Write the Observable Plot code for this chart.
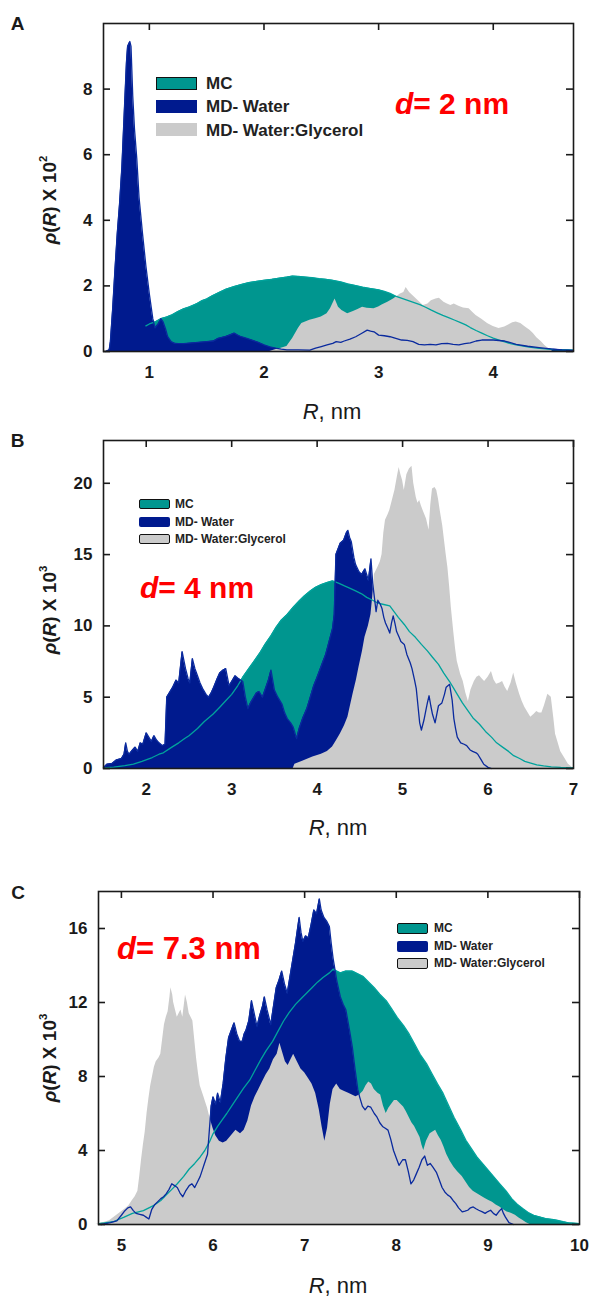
<!DOCTYPE html>
<html>
<head>
<meta charset="utf-8">
<script src="https://cdn.jsdelivr.net/npm/d3@7"></script>
<script src="https://cdn.jsdelivr.net/npm/@observablehq/plot@0.6"></script>
<style>
  html, body { margin: 0; padding: 0; background: #fff; }
  #root { position: relative; width: 590px; height: 1297px; overflow: hidden; font-family: 'Liberation Sans', Arial, Helvetica, sans-serif; color: #1a1a1a; }
  .abs { position: absolute; white-space: nowrap; line-height: 1; }
</style>
</head>
<body>
<div id="root"></div>
<script>
// ---------------- DATA ----------------
const seriesNames = ["MC", "MD- Water", "MD- Water:Glycerol"];
const panelLetters = ["A", "B", "C"];
const distanceLabels = ["2 nm", "4 nm", "7.3 nm"];
const yExponents = ["2", "3", "3"];

const xTicksA = [1, 2, 3, 4];
const yTicksA = [0, 2, 4, 6, 8];
const xTicksB = [2, 3, 4, 5, 6, 7];
const yTicksB = [0, 5, 10, 15, 20];
const xTicksC = [5, 6, 7, 8, 9, 10];
const yTicksC = [0, 4, 8, 12, 16];

// Panel A (rho x 10^2)
const A_MC = [[0.97,0.78],[1.0,0.84],[1.05,0.9],[1.1,1.0],[1.15,1.05],[1.2,1.12],[1.25,1.22],[1.3,1.3],[1.35,1.36],[1.41,1.45],[1.46,1.55],[1.5,1.6],[1.55,1.7],[1.61,1.8],[1.67,1.9],[1.74,1.98],[1.81,2.05],[1.87,2.1],[1.94,2.14],[2.0,2.17],[2.07,2.2],[2.14,2.24],[2.2,2.27],[2.25,2.3],[2.3,2.29],[2.36,2.27],[2.42,2.25],[2.48,2.22],[2.54,2.2],[2.6,2.17],[2.67,2.12],[2.73,2.06],[2.8,2.01],[2.86,1.96],[2.93,1.92],[3.0,1.88],[3.05,1.83],[3.1,1.77],[3.16,1.67],[3.21,1.61],[3.26,1.55],[3.31,1.49],[3.36,1.43],[3.41,1.35],[3.46,1.26],[3.51,1.18],[3.56,1.1],[3.61,1.03],[3.66,0.96],[3.71,0.89],[3.76,0.81],[3.8,0.73],[3.85,0.64],[3.9,0.56],[3.95,0.48],[4.0,0.41],[4.05,0.35],[4.1,0.29],[4.15,0.24],[4.2,0.2],[4.25,0.17],[4.3,0.14],[4.38,0.1],[4.45,0.08],[4.52,0.06],[4.6,0.05],[4.7,0.04]];
const A_Water = [[0.62,0],[0.65,0.05],[0.66,0.3],[0.68,1.3],[0.7,2.5],[0.72,3.6],[0.74,4.5],[0.76,5.6],[0.78,7.2],[0.8,8.8],[0.81,9.3],[0.83,9.45],[0.84,9.3],[0.855,7.8],[0.87,6.8],[0.89,5.9],[0.91,4.7],[0.94,3.6],[0.97,2.6],[1.0,1.75],[1.03,1.0],[1.05,0.72],[1.08,0.85],[1.1,1.0],[1.12,0.9],[1.14,0.7],[1.16,0.45],[1.19,0.3],[1.22,0.25],[1.3,0.24],[1.4,0.27],[1.5,0.3],[1.56,0.32],[1.6,0.4],[1.66,0.45],[1.7,0.5],[1.74,0.56],[1.77,0.5],[1.8,0.45],[1.85,0.4],[1.9,0.34],[1.95,0.28],[2.0,0.2],[2.05,0.14],[2.1,0.1],[2.15,0.07],[2.2,0.05],[2.3,0.05],[2.4,0.04],[2.45,0.1],[2.5,0.15],[2.55,0.2],[2.6,0.25],[2.63,0.3],[2.67,0.28],[2.7,0.32],[2.75,0.38],[2.8,0.45],[2.85,0.55],[2.9,0.65],[2.93,0.62],[2.96,0.6],[3.0,0.5],[3.05,0.48],[3.1,0.45],[3.15,0.4],[3.2,0.35],[3.25,0.34],[3.3,0.3],[3.35,0.22],[3.4,0.2],[3.45,0.22],[3.5,0.2],[3.55,0.24],[3.6,0.25],[3.65,0.22],[3.7,0.2],[3.75,0.24],[3.8,0.26],[3.85,0.32],[3.9,0.35],[4.0,0.35],[4.1,0.32],[4.2,0.22],[4.3,0.16],[4.4,0.12],[4.5,0.08],[4.6,0.05],[4.7,0.03]];
const A_Gly = [[2.05,0],[2.1,0.05],[2.15,0.1],[2.2,0.15],[2.25,0.4],[2.3,0.7],[2.33,0.85],[2.4,0.95],[2.45,1.0],[2.5,1.05],[2.55,1.15],[2.58,1.3],[2.62,1.6],[2.65,1.35],[2.68,1.25],[2.73,1.15],[2.78,1.22],[2.82,1.28],[2.86,1.35],[2.9,1.32],[2.96,1.3],[3.0,1.36],[3.03,1.42],[3.08,1.5],[3.13,1.6],[3.19,1.75],[3.22,1.8],[3.24,1.95],[3.27,1.8],[3.3,1.7],[3.33,1.6],[3.36,1.5],[3.39,1.4],[3.43,1.45],[3.46,1.55],[3.5,1.6],[3.53,1.62],[3.57,1.5],[3.6,1.45],[3.63,1.4],[3.66,1.45],[3.7,1.38],[3.74,1.33],[3.79,1.3],[3.82,1.2],[3.85,1.1],[3.9,0.98],[3.95,0.85],[4.0,0.76],[4.05,0.7],[4.1,0.75],[4.13,0.8],[4.17,0.88],[4.2,0.9],[4.24,0.85],[4.28,0.75],[4.32,0.65],[4.35,0.55],[4.38,0.42],[4.42,0.3],[4.45,0.18],[4.48,0.1],[4.52,0]];

// Panel B (rho x 10^3)
const B_MC = [[1.5,0.05],[1.62,0.1],[1.75,0.2],[1.85,0.3],[1.95,0.5],[2.07,0.77],[2.15,1.0],[2.2,1.1],[2.3,1.5],[2.38,1.8],[2.45,2.1],[2.5,2.3],[2.6,2.8],[2.68,3.3],[2.78,3.8],[2.86,4.3],[2.93,4.75],[3.0,5.2],[3.07,5.8],[3.13,6.4],[3.2,7.0],[3.26,7.5],[3.33,8.1],[3.39,8.7],[3.46,9.3],[3.52,9.9],[3.58,10.4],[3.65,10.8],[3.72,11.3],[3.79,11.75],[3.85,12.1],[3.92,12.45],[3.98,12.7],[4.05,12.9],[4.12,13.05],[4.18,13.15],[4.25,13.0],[4.32,12.8],[4.38,12.65],[4.45,12.45],[4.52,12.25],[4.58,12.0],[4.65,11.8],[4.71,11.6],[4.78,11.5],[4.85,11.4],[4.9,11.0],[4.95,10.6],[5.02,10.1],[5.08,9.6],[5.15,9.2],[5.22,8.7],[5.29,8.25],[5.35,7.8],[5.42,7.3],[5.48,6.7],[5.55,6.1],[5.6,5.6],[5.64,5.2],[5.7,4.6],[5.77,4.0],[5.83,3.5],[5.9,3.1],[5.97,2.6],[6.04,2.2],[6.1,1.8],[6.17,1.5],[6.24,1.2],[6.3,0.9],[6.37,0.7],[6.43,0.5],[6.5,0.38],[6.57,0.26],[6.65,0.18],[6.74,0.12],[6.85,0.08],[7.0,0.05]];
const B_Water = [[1.5,0.05],[1.54,0.3],[1.6,0.35],[1.65,0.6],[1.71,0.7],[1.74,1.0],[1.76,1.8],[1.78,1.2],[1.8,1.0],[1.84,1.3],[1.87,1.5],[1.9,1.2],[1.93,1.8],[1.96,1.7],[2.0,2.5],[2.03,2.2],[2.06,1.9],[2.09,2.3],[2.12,2.0],[2.15,1.8],[2.19,1.6],[2.22,1.7],[2.24,5.0],[2.28,5.4],[2.31,5.7],[2.35,6.2],[2.38,6.0],[2.42,8.2],[2.46,7.0],[2.49,6.3],[2.51,6.0],[2.54,7.7],[2.57,7.0],[2.6,6.5],[2.63,6.0],[2.66,5.6],[2.7,5.2],[2.73,5.0],[2.76,5.3],[2.79,5.7],[2.83,6.3],[2.86,6.7],[2.9,6.9],[2.93,7.0],[2.97,5.8],[3.0,6.1],[3.04,6.5],[3.08,6.3],[3.13,6.1],[3.16,5.0],[3.19,4.2],[3.22,4.6],[3.26,5.0],[3.29,5.3],[3.32,5.4],[3.36,5.0],[3.39,5.5],[3.43,6.2],[3.46,6.9],[3.5,5.5],[3.54,5.0],[3.59,4.5],[3.62,3.9],[3.65,3.5],[3.69,3.2],[3.72,2.9],[3.76,2.1],[3.79,2.8],[3.83,3.5],[3.88,4.2],[3.92,5.0],[3.96,5.8],[4.0,6.4],[4.05,7.2],[4.1,8.0],[4.14,8.9],[4.18,9.8],[4.2,10.8],[4.22,15.0],[4.27,15.8],[4.31,16.0],[4.34,16.5],[4.36,16.7],[4.38,16.2],[4.4,15.9],[4.43,14.8],[4.45,14.3],[4.49,13.8],[4.52,13.6],[4.56,14.0],[4.6,13.2],[4.63,14.7],[4.65,13.0],[4.67,12.0],[4.69,11.0],[4.71,11.8],[4.74,11.5],[4.76,11.2],[4.78,10.6],[4.8,10.2],[4.83,9.8],[4.85,9.5],[4.87,10.2],[4.89,10.7],[4.91,10.2],[4.93,9.6],[4.96,9.2],[4.98,8.9],[5.02,8.7],[5.05,8.0],[5.07,7.7],[5.09,7.4],[5.11,7.0],[5.14,6.2],[5.16,5.6],[5.18,4.4],[5.2,3.2],[5.22,2.7],[5.25,3.4],[5.27,4.0],[5.29,4.6],[5.31,5.1],[5.33,4.4],[5.35,3.8],[5.38,3.2],[5.4,3.8],[5.42,4.4],[5.46,4.6],[5.49,5.2],[5.51,5.7],[5.55,5.9],[5.58,4.8],[5.6,3.5],[5.62,2.8],[5.64,2.2],[5.68,1.8],[5.72,1.7],[5.75,1.6],[5.79,1.3],[5.82,1.2],[5.86,1.1],[5.88,1.0],[5.92,0.6],[5.95,0.3],[6.0,0.08],[6.04,0]];
const B_Gly = [[3.72,0],[3.74,0.3],[3.83,0.5],[3.95,0.8],[4.05,1.0],[4.12,1.2],[4.18,1.5],[4.22,1.9],[4.27,2.4],[4.32,3.0],[4.36,3.6],[4.39,4.4],[4.42,5.2],[4.46,6.2],[4.49,7.1],[4.53,8.2],[4.56,9.2],[4.6,10.0],[4.63,10.8],[4.65,12.0],[4.67,13.6],[4.71,14.1],[4.74,14.5],[4.76,15.0],[4.78,16.5],[4.8,17.4],[4.83,17.8],[4.85,18.1],[4.88,18.8],[4.91,19.5],[4.94,20.5],[4.96,21.1],[4.98,20.6],[5.0,20.2],[5.02,19.5],[5.05,20.6],[5.08,21.0],[5.11,21.2],[5.13,20.0],[5.16,19.0],[5.18,18.6],[5.2,18.8],[5.22,18.4],[5.24,18.1],[5.28,17.5],[5.31,16.7],[5.33,18.5],[5.35,19.6],[5.38,19.7],[5.4,19.5],[5.42,18.9],[5.44,18.1],[5.47,17.0],[5.49,16.0],[5.51,15.0],[5.53,14.1],[5.55,12.8],[5.57,11.3],[5.6,9.5],[5.62,8.4],[5.64,7.5],[5.68,6.6],[5.71,6.1],[5.74,5.3],[5.77,4.7],[5.8,5.5],[5.84,6.1],[5.87,6.4],[5.9,6.5],[5.93,6.3],[5.96,6.1],[6.0,6.4],[6.04,6.8],[6.07,6.2],[6.1,5.9],[6.14,6.0],[6.17,6.1],[6.2,5.7],[6.23,5.4],[6.27,6.0],[6.3,6.7],[6.33,6.0],[6.37,5.2],[6.4,4.7],[6.43,4.3],[6.47,3.9],[6.5,3.6],[6.54,3.8],[6.57,4.0],[6.6,3.9],[6.63,3.9],[6.66,4.4],[6.7,5.2],[6.74,5.0],[6.77,3.5],[6.79,2.4],[6.82,1.8],[6.85,1.2],[6.9,0.7],[6.94,0.3],[6.98,0.1],[7.0,0]];

// Panel C (rho x 10^3)
const C_MC = [[4.76,0.05],[4.91,0.15],[5.03,0.4],[5.12,0.6],[5.24,0.75],[5.3,0.9],[5.36,1.05],[5.43,1.3],[5.49,1.6],[5.55,1.9],[5.61,2.2],[5.68,2.6],[5.74,3.0],[5.8,3.3],[5.86,3.65],[5.91,4.0],[5.96,4.45],[6.0,4.9],[6.05,5.3],[6.1,5.65],[6.15,6.0],[6.21,6.45],[6.27,6.9],[6.33,7.35],[6.4,7.8],[6.46,8.35],[6.52,8.9],[6.58,9.4],[6.65,9.9],[6.71,10.45],[6.77,11.0],[6.83,11.45],[6.9,11.9],[6.96,12.2],[7.02,12.5],[7.08,12.8],[7.14,13.1],[7.2,13.35],[7.27,13.6],[7.31,13.8],[7.35,13.7],[7.39,13.6],[7.45,13.7],[7.52,13.7],[7.58,13.55],[7.64,13.4],[7.7,13.1],[7.76,12.8],[7.82,12.45],[7.89,12.1],[7.95,11.65],[8.01,11.2],[8.08,10.75],[8.14,10.3],[8.2,9.75],[8.26,9.2],[8.33,8.7],[8.39,8.15],[8.45,7.6],[8.51,7.1],[8.57,6.45],[8.63,5.8],[8.7,5.15],[8.76,4.55],[8.82,4.1],[8.88,3.65],[8.95,3.25],[9.01,2.9],[9.07,2.55],[9.13,2.2],[9.2,1.8],[9.26,1.4],[9.32,1.1],[9.38,0.86],[9.44,0.65],[9.5,0.5],[9.57,0.4],[9.63,0.32],[9.7,0.27],[9.75,0.23],[9.82,0.15],[9.88,0.09],[10.0,0.05]];
const C_Water = [[4.78,0],[4.88,0.1],[4.95,0.2],[5.0,0.5],[5.03,0.7],[5.07,0.9],[5.1,0.95],[5.13,0.75],[5.16,0.6],[5.2,0.55],[5.24,0.5],[5.27,0.4],[5.3,0.3],[5.33,0.8],[5.36,1.05],[5.4,1.25],[5.43,1.4],[5.46,1.5],[5.49,1.67],[5.52,1.9],[5.55,2.2],[5.58,2.1],[5.61,2.0],[5.64,1.7],[5.67,1.5],[5.7,1.8],[5.74,2.1],[5.77,2.2],[5.8,2.0],[5.83,2.3],[5.86,2.6],[5.88,2.9],[5.9,3.2],[5.92,3.5],[5.94,3.8],[5.96,5.1],[5.98,6.4],[6.0,6.9],[6.03,6.5],[6.05,7.1],[6.08,6.6],[6.11,7.6],[6.14,9.0],[6.17,10.1],[6.2,10.5],[6.23,10.9],[6.26,10.3],[6.29,9.9],[6.32,9.9],[6.34,10.3],[6.36,10.5],[6.39,11.0],[6.42,12.1],[6.45,11.4],[6.48,10.7],[6.51,11.3],[6.54,11.8],[6.56,12.3],[6.59,11.6],[6.63,10.8],[6.66,11.8],[6.69,12.8],[6.72,13.2],[6.75,13.7],[6.78,13.0],[6.81,12.5],[6.84,13.4],[6.87,14.3],[6.9,15.2],[6.94,16.6],[6.96,15.8],[6.98,15.3],[7.01,15.6],[7.04,15.5],[7.07,16.2],[7.1,17.0],[7.13,16.8],[7.16,17.6],[7.18,17.0],[7.21,16.6],[7.24,16.4],[7.27,16.1],[7.29,15.2],[7.31,14.4],[7.33,13.8],[7.35,13.2],[7.39,12.3],[7.42,11.9],[7.45,11.6],[7.49,10.5],[7.52,9.6],[7.55,8.4],[7.58,7.3],[7.6,6.9],[7.63,6.4],[7.66,6.2],[7.69,6.4],[7.72,6.35],[7.76,6.0],[7.79,5.8],[7.82,5.5],[7.85,5.3],[7.88,5.2],[7.91,5.1],[7.94,4.6],[7.97,4.0],[8.0,3.6],[8.03,3.2],[8.07,3.5],[8.1,3.5],[8.13,2.9],[8.16,2.2],[8.19,2.4],[8.22,2.75],[8.25,3.1],[8.28,3.5],[8.31,3.7],[8.34,3.2],[8.37,3.3],[8.4,3.1],[8.44,2.8],[8.47,2.4],[8.5,2.0],[8.53,1.76],[8.56,1.6],[8.59,1.5],[8.62,1.3],[8.65,1.13],[8.68,0.9],[8.72,0.68],[8.75,0.72],[8.78,0.77],[8.81,0.9],[8.84,0.95],[8.87,0.85],[8.9,0.77],[8.94,0.68],[8.97,0.6],[9.0,0.7],[9.03,0.77],[9.06,0.6],[9.09,0.5],[9.12,0.7],[9.15,0.86],[9.17,0.6],[9.19,0.41],[9.23,0.1],[9.28,0]];
const C_Gly = [[4.72,0],[4.8,0.1],[4.87,0.2],[4.95,0.5],[5.03,0.8],[5.08,1.0],[5.12,1.3],[5.15,1.5],[5.18,1.8],[5.2,2.6],[5.22,3.5],[5.24,4.3],[5.26,5.0],[5.28,6.0],[5.3,6.8],[5.32,7.5],[5.34,8.0],[5.36,8.5],[5.38,8.8],[5.41,9.0],[5.43,9.2],[5.45,10.0],[5.47,10.8],[5.49,11.2],[5.51,11.5],[5.53,12.3],[5.54,12.8],[5.56,12.4],[5.57,12.0],[5.59,11.6],[5.61,11.2],[5.63,11.4],[5.65,11.6],[5.67,11.2],[5.69,12.0],[5.7,12.4],[5.72,12.0],[5.74,11.4],[5.76,11.2],[5.78,11.0],[5.8,10.0],[5.82,9.0],[5.84,8.2],[5.86,7.5],[5.88,7.2],[5.9,6.9],[5.92,6.6],[5.94,6.3],[5.97,5.7],[6.0,5.2],[6.03,4.8],[6.07,4.5],[6.11,4.4],[6.15,4.5],[6.2,4.8],[6.25,5.1],[6.3,4.9],[6.34,5.1],[6.38,5.6],[6.42,6.4],[6.46,6.9],[6.5,7.3],[6.54,7.7],[6.58,8.1],[6.62,8.4],[6.66,8.9],[6.7,9.2],[6.73,9.8],[6.76,9.3],[6.79,8.8],[6.82,8.6],[6.85,8.9],[6.88,9.2],[6.92,8.8],[6.96,8.4],[7.0,8.2],[7.04,7.9],[7.08,7.6],[7.12,7.1],[7.16,6.2],[7.19,5.3],[7.22,4.5],[7.25,5.2],[7.28,6.5],[7.31,7.3],[7.35,7.6],[7.39,7.3],[7.43,7.2],[7.48,7.1],[7.52,7.0],[7.56,6.9],[7.6,7.0],[7.64,7.2],[7.67,7.5],[7.7,7.7],[7.73,7.6],[7.76,7.3],[7.8,7.1],[7.83,7.0],[7.86,6.4],[7.89,6.0],[7.92,6.3],[7.95,6.5],[7.98,6.7],[8.01,6.7],[8.05,6.5],[8.08,6.35],[8.11,6.1],[8.14,5.8],[8.17,5.5],[8.2,5.3],[8.23,5.0],[8.26,4.7],[8.28,4.3],[8.3,4.0],[8.33,4.5],[8.37,4.9],[8.4,5.0],[8.43,5.1],[8.46,4.8],[8.49,4.55],[8.52,4.2],[8.55,3.8],[8.59,3.4],[8.63,3.1],[8.67,2.85],[8.72,2.6],[8.76,2.3],[8.8,2.0],[8.84,1.8],[8.88,1.67],[8.92,1.55],[8.97,1.4],[9.01,1.3],[9.05,1.2],[9.09,1.05],[9.13,0.95],[9.17,0.8],[9.21,0.68],[9.26,0.6],[9.3,0.5],[9.34,0.35],[9.38,0.23],[9.42,0.1],[9.46,0]];

// ---------------- STYLE ----------------
const FONT = "'Liberation Sans', Arial, Helvetica, sans-serif";
const TEAL = "#00968f";
const TEAL_LINE = "#00a39c";
const NAVY = "#001a8e";
const NAVY_LINE = "#0a2a9e";
const GRAY = "#cbcbcb";
const INK = "#1a1a1a";

const root = document.getElementById("root");

function addDiv(html, styles) {
  const d = document.createElement("div");
  d.className = "abs";
  d.innerHTML = html;
  Object.assign(d.style, styles);
  root.appendChild(d);
  return d;
}

function panel(cfg) {
  const {top, height, mt, mb, ml, mr, xDomain, xTicks, yDomain, yTicks, mc, water, gly} = cfg;
  const W = 590;
  const fw = W - ml - mr, fh = height - mt - mb;
  const X = d => d[0], Y = d => d[1];
  const tk = {stroke: INK, strokeWidth: 1.6};
  const fmt = d => String(d);
  const svg = Plot.plot({
    width: W, height,
    marginTop: mt, marginBottom: mb, marginLeft: ml, marginRight: mr,
    x: {domain: xDomain, label: null},
    y: {domain: yDomain, label: null},
    style: {fontFamily: FONT, fontSize: "17px", fontWeight: "bold", color: INK, background: "transparent", overflow: "visible"},
    marks: [
      Plot.areaY(mc, {x: X, y: Y, fill: TEAL}),
      Plot.areaY(water, {x: X, y: Y, fill: NAVY}),
      Plot.areaY(gly, {x: X, y: Y, fill: GRAY}),
      Plot.lineY(mc, {x: X, y: Y, stroke: TEAL_LINE, strokeWidth: 1.3}),
      Plot.lineY(water, {x: X, y: Y, stroke: NAVY_LINE, strokeWidth: 1.3}),
      Plot.axisX({ticks: xTicks, tickFormat: fmt, tickSize: 0, tickPadding: 14, label: null, fontSize: 17, fontWeight: "bold", fill: INK}),
      Plot.axisY({ticks: yTicks, tickFormat: fmt, tickSize: 0, tickPadding: 11, label: null, fontSize: 17, fontWeight: "bold", fill: INK}),
      Plot.tickY(yTicks, {y: d => d, insetRight: fw - 7, ...tk}),
      Plot.tickY(yTicks, {y: d => d, insetLeft: fw - 7, ...tk}),
      Plot.tickX(xTicks, {x: d => d, insetBottom: fh - 7, ...tk}),
      Plot.frame({stroke: INK, strokeWidth: 1.6})
    ]
  });
  svg.style.position = "absolute";
  svg.style.left = "0px";
  svg.style.top = top + "px";
  root.appendChild(svg);
}

panel({top: 0, height: 430, mt: 23, mb: 79, ml: 103, mr: 17, xDomain: [0.6, 4.7], xTicks: xTicksA, yDomain: [0, 10], yTicks: yTicksA, mc: A_MC, water: A_Water, gly: A_Gly});
panel({top: 430, height: 410, mt: 10, mb: 72, ml: 103, mr: 17, xDomain: [1.5, 7], xTicks: xTicksB, yDomain: [0, 23], yTicks: yTicksB, mc: B_MC, water: B_Water, gly: B_Gly});
panel({top: 850, height: 447, mt: 41, mb: 73, ml: 98, mr: 11, xDomain: [4.75, 10], xTicks: xTicksC, yDomain: [0, 18], yTicks: yTicksC, mc: C_MC, water: C_Water, gly: C_Gly});

// ---------------- TEXT OVERLAYS ----------------
const layout = [
  {letter: [17.5, 22.5], ytitle: [49, 200], xtitle: [332, 412], dlab: [452, 104], dsize: 30,
   leg: {x: 156, w: 41, h: 13, rows: [83, 106, 129.5], tx: 206, fs: 17, border: [true, false, false]}},
  {letter: [17.5, 440], ytitle: [49, 610], xtitle: [338, 828], dlab: [197, 588], dsize: 30,
   leg: {x: 139, w: 31, h: 10, rows: [504, 522, 539], tx: 175, fs: 12, border: [true, false, true]}},
  {letter: [18, 891.5], ytitle: [49, 1058], xtitle: [338, 1286], dlab: [189, 948], dsize: 31,
   leg: {x: 397, w: 31, h: 11, rows: [928, 946, 963], tx: 434, fs: 12, border: [true, false, true]}}
];
const swatchColors = [TEAL, NAVY, GRAY];

layout.forEach((L, i) => {
  addDiv(panelLetters[i], {left: L.letter[0] + "px", top: L.letter[1] + "px", fontSize: "19px", fontWeight: "bold", transform: "translate(-50%,-50%)"});
  addDiv(`<i>&rho;</i>(<i>R</i>) X 10<sup style="font-size:0.6em;vertical-align:0.75em;line-height:0">${yExponents[i]}</sup>`,
    {left: L.ytitle[0] + "px", top: L.ytitle[1] + "px", fontSize: "19px", fontWeight: "bold", transform: "translate(-50%,-50%) rotate(-90deg)"});
  addDiv(`<i>R</i>, nm`, {left: L.xtitle[0] + "px", top: L.xtitle[1] + "px", fontSize: "22px", transform: "translate(-50%,-50%)"});
  addDiv(`<i>d</i>= ${distanceLabels[i]}`, {left: L.dlab[0] + "px", top: L.dlab[1] + "px", fontSize: L.dsize + "px", fontWeight: "bold", color: "#ff0000", transform: "translate(-50%,-50%)"});
  const g = L.leg;
  seriesNames.forEach((name, j) => {
    const cy = g.rows[j];
    addDiv("", {left: g.x + "px", top: (cy - g.h / 2) + "px", width: g.w + "px", height: g.h + "px", background: swatchColors[j],
      boxSizing: "border-box", border: g.border[j] ? "1.5px solid #111" : "none", borderRadius: i === 0 ? "0" : "2px"});
    addDiv(name, {left: g.tx + "px", top: cy + "px", fontSize: g.fs + "px", fontWeight: "bold", color: "#222", transform: "translateY(-50%)"});
  });
});
</script>
</body>
</html>
